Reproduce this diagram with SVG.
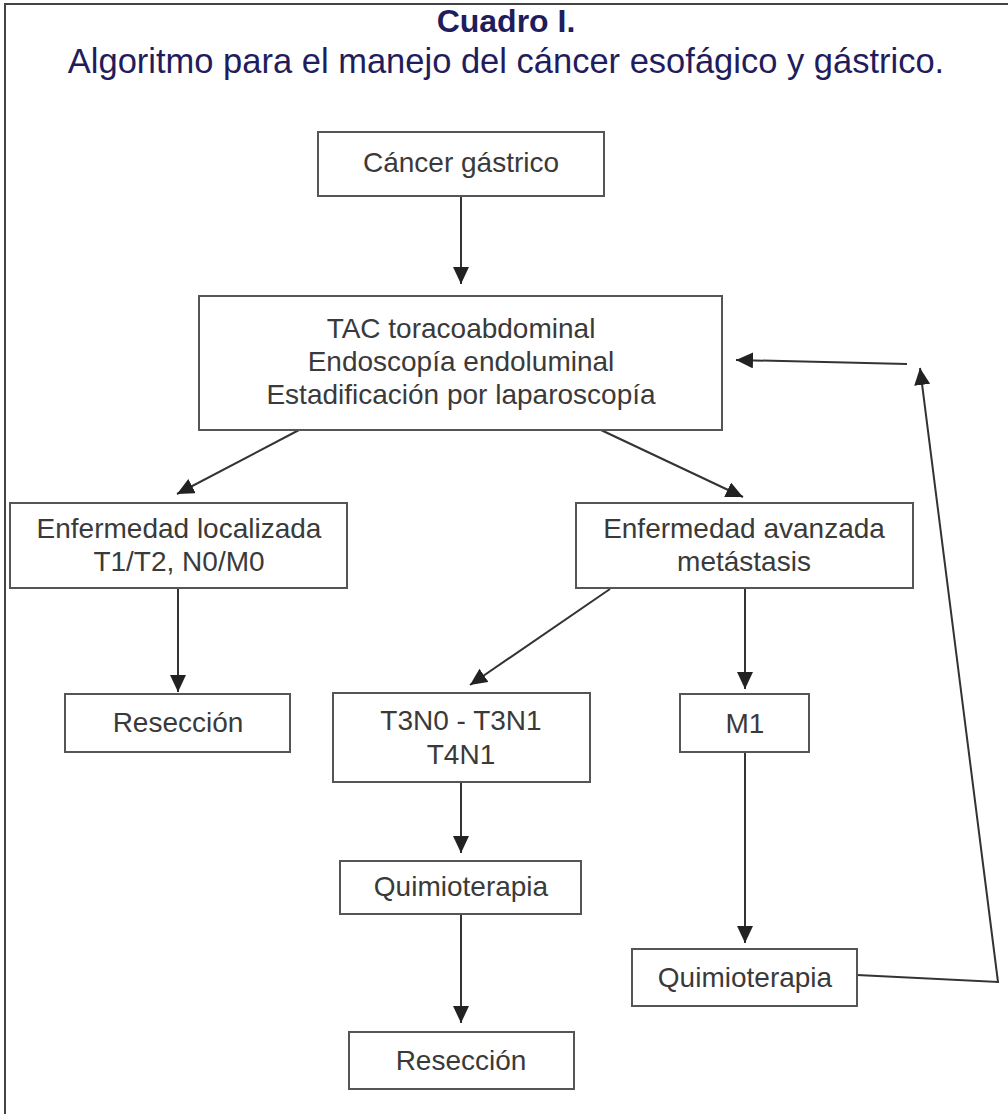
<svg xmlns="http://www.w3.org/2000/svg" width="1008" height="1114" viewBox="0 0 1008 1114">
<style>
.box{fill:#fff;stroke:#555;stroke-width:2}
.t{font-family:"Liberation Sans",Arial,sans-serif;font-size:28px;fill:#3a3a3a;text-anchor:middle}
.c{fill:none;stroke:#333;stroke-width:2}
.ttl{font-family:"Liberation Sans",Arial,sans-serif;fill:#1f1d5c;text-anchor:middle}
</style>
<defs>
<marker id="ah" markerUnits="userSpaceOnUse" markerWidth="20" markerHeight="18" refX="17" refY="8" orient="auto">
<path d="M0,0 L17,8 L0,16 z" fill="#222"/>
</marker>
</defs>
<rect width="1008" height="1114" fill="#fff"/>
<path d="M1010,4 H5 V1116" fill="none" stroke="#444" stroke-width="2"/>
<text class="ttl" x="506" y="32" font-size="32" font-weight="bold">Cuadro I.</text>
<text class="ttl" x="506" y="73" font-size="34.5">Algoritmo para el manejo del cáncer esofágico y gástrico.</text>

<g id="connectors">
<line class="c" x1="461" y1="196" x2="461" y2="284" marker-end="url(#ah)"/>
<line class="c" x1="299" y1="430" x2="177" y2="494" marker-end="url(#ah)"/>
<line class="c" x1="601" y1="430" x2="743" y2="497" marker-end="url(#ah)"/>
<line class="c" x1="178" y1="588" x2="178" y2="692" marker-end="url(#ah)"/>
<line class="c" x1="610" y1="589" x2="470" y2="685" marker-end="url(#ah)"/>
<line class="c" x1="745" y1="588" x2="745" y2="689" marker-end="url(#ah)"/>
<line class="c" x1="461" y1="782" x2="461" y2="853" marker-end="url(#ah)"/>
<line class="c" x1="461" y1="914" x2="461" y2="1023" marker-end="url(#ah)"/>
<line class="c" x1="745" y1="752" x2="745" y2="943" marker-end="url(#ah)"/>
<polyline class="c" points="857,975 998,982 920,368" marker-end="url(#ah)"/>
<line class="c" x1="907" y1="364" x2="736" y2="360" marker-end="url(#ah)"/>
</g>

<g id="n-cancer">
<rect class="box" x="318" y="132" width="286" height="64"/>
<text class="t" x="461" y="172">Cáncer gástrico</text>
</g>
<g id="n-tac">
<rect class="box" x="199" y="296" width="523" height="134"/>
<text class="t" x="461" y="338">TAC toracoabdominal</text>
<text class="t" x="461" y="371">Endoscopía endoluminal</text>
<text class="t" x="461" y="404">Estadificación por laparoscopía</text>
</g>
<g id="n-localizada">
<rect class="box" x="10" y="503" width="337" height="85"/>
<text class="t" x="179" y="538">Enfermedad localizada</text>
<text class="t" x="179" y="571">T1/T2, N0/M0</text>
</g>
<g id="n-avanzada">
<rect class="box" x="576" y="503" width="337" height="85"/>
<text class="t" x="744" y="538">Enfermedad avanzada</text>
<text class="t" x="744" y="571">metástasis</text>
</g>
<g id="n-reseccion1">
<rect class="box" x="65" y="694" width="225" height="58"/>
<text class="t" x="178" y="732">Resección</text>
</g>
<g id="n-t3n0">
<rect class="box" x="333" y="693" width="257" height="89"/>
<text class="t" x="461" y="730">T3N0 - T3N1</text>
<text class="t" x="461" y="764">T4N1</text>
</g>
<g id="n-m1">
<rect class="box" x="680" y="694" width="129" height="58"/>
<text class="t" x="745" y="733">M1</text>
</g>
<g id="n-quimio1">
<rect class="box" x="340" y="861" width="241" height="53"/>
<text class="t" x="461" y="896">Quimioterapia</text>
</g>
<g id="n-quimio2">
<rect class="box" x="632" y="949" width="225" height="57"/>
<text class="t" x="745" y="987">Quimioterapia</text>
</g>
<g id="n-reseccion2">
<rect class="box" x="349" y="1032" width="225" height="57"/>
<text class="t" x="461" y="1070">Resección</text>
</g>
</svg>
